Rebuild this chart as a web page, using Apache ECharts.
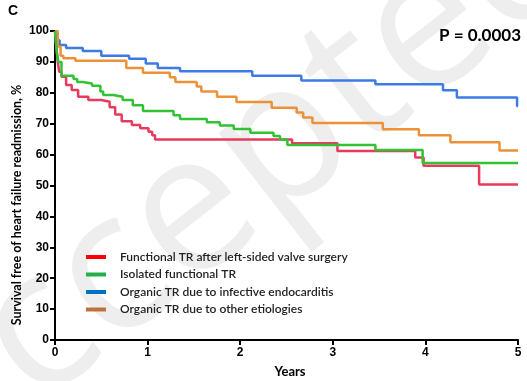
<!DOCTYPE html>
<html>
<head>
<meta charset="utf-8">
<script src="https://cdn.jsdelivr.net/npm/echarts@6/dist/echarts.min.js"></script>
<style>
  html, body { margin: 0; padding: 0; background: #fff; }
  #km { width: 527px; height: 381px; }
</style>
</head>
<body>
<div id="km"></div>
<script>
// step points: [years, % free of readmission]
const funcAfterSurgery = [
  [0, 100], [0.01, 96], [0.03, 90], [0.045, 86.8], [0.07, 85.2], [0.12, 82.5],
  [0.18, 80.9], [0.25, 78.7], [0.36, 77.7], [0.5, 77.1], [0.59, 75.3], [0.65, 73],
  [0.72, 70.8], [0.83, 69.6], [0.92, 68.5], [1.01, 67.4], [1.05, 66.3], [1.08, 64.9],
  [2.56, 63.7], [3.05, 61.2], [3.89, 59.1], [3.98, 56.4], [4.58, 50.3], [5, 50.3]
]
const isolatedFunc = [
  [0, 100], [0.02, 93], [0.035, 90], [0.07, 85.5], [0.2, 84.5], [0.24, 83.5],
  [0.3, 83], [0.4, 82.3], [0.49, 80.4], [0.52, 79.3], [0.63, 78.7], [0.73, 77.7],
  [0.84, 76], [0.95, 74.1], [1.28, 72.7], [1.35, 71.5], [1.64, 70.5], [1.78, 69.4],
  [1.93, 68.3], [2.11, 67.1], [2.36, 66], [2.43, 64.8], [2.51, 63.1], [3.46, 61.5],
  [3.97, 57.3], [5, 57.3]
]
const organicEndocarditis = [
  [0, 100], [0.02, 97], [0.05, 95.5], [0.12, 94.5], [0.3, 93.5], [0.5, 92],
  [0.8, 91], [0.98, 89.5], [1.11, 88], [1.35, 87], [2.13, 85.5], [2.66, 84],
  [3.46, 82.8], [4.19, 80.8], [4.34, 78.5], [4.99, 75.7], [5, 75.7]
]
const organicOther = [
  [0, 100], [0.03, 95], [0.06, 92], [0.09, 91.2], [0.22, 90.4], [0.77, 88],
  [0.95, 86.5], [1.24, 85], [1.3, 83.5], [1.53, 82], [1.58, 80.4], [1.75, 78.7],
  [1.96, 77], [2.34, 75.2], [2.61, 73.6], [2.68, 72], [2.78, 70.2], [3.54, 68.2],
  [3.93, 66.3], [4.27, 64], [4.8, 61.3], [5, 61.3]
]
const seriesNames = [
  'Functional TR after left-sided valve surgery',
  'Isolated functional TR',
  'Organic TR due to infective endocarditis',
  'Organic TR due to other etiologies'
]
const lineColors = ['#e83a5c', '#33c233', '#3c7be3', '#ec9138']
const legendColors = ['#ff0000', '#22b04b', '#0070c0', '#c0703a']
const allData = [funcAfterSurgery, isolatedFunc, organicEndocarditis, organicOther]

let chart = echarts.init(document.getElementById('km'))
const axisFont = { color: '#000', fontWeight: 'bold', fontSize: 12, fontFamily: 'Liberation Sans' }

chart.setOption({
  animation: false,
  grid: { left: 55, right: 9, top: 31, bottom: 41 },
  graphic: [
    {
      // faint "Accepted" watermark behind the plot
      type: 'text', x: -95, y: 440, z: -10, rotation: Math.PI / 180 * 38,
      style: { text: 'Accepted', fontSize: 195, fontFamily: 'Open Sans', fill: 'rgba(0,0,0,0.065)', verticalAlign: 'middle' }
    },
    { type: 'text', left: 8, top: 4, style: { text: 'C', fontSize: 14, fontWeight: 'bold', fontFamily: 'Liberation Sans', fill: '#000' } },
    { type: 'text', right: 6, top: 27, style: { text: 'P = 0.0003', fontSize: 17, fontWeight: 'bold', fontFamily: 'Lato', fill: '#000' } },
    {
      type: 'text', x: 17, y: 205, rotation: Math.PI / 2,
      style: { text: 'Survival free of heart failure readmission, %', fontSize: 12.5, fontWeight: 'bold', fontFamily: 'Lato', fill: '#000', align: 'center', verticalAlign: 'middle' }
    },
    { type: 'text', x: 290, y: 372, style: { text: 'Years', fontSize: 13, fontWeight: 'bold', fontFamily: 'Lato', fill: '#000', align: 'center', verticalAlign: 'middle' } }
  ],
  legend: {
    orient: 'vertical', left: 81, top: 246, itemWidth: 20, itemHeight: 4, itemGap: 5.5,
    icon: 'rect',
    data: seriesNames,
    textStyle: { fontSize: 12, fontFamily: 'Lato', fontWeight: 600, color: '#222', padding: [0, 0, 0, 9] }
  },
  xAxis: {
    type: 'value', min: 0, max: 5, interval: 1,
    axisLine: { lineStyle: { color: '#000', width: 2 } },
    axisTick: { lineStyle: { color: '#000', width: 2 }, length: 5 },
    axisLabel: Object.assign({ margin: 7 }, axisFont),
    splitLine: { show: false }
  },
  yAxis: {
    type: 'value', min: 0, max: 100, interval: 10,
    axisLine: { show: true, lineStyle: { color: '#000', width: 2 } },
    axisTick: { show: true, lineStyle: { color: '#000', width: 2 }, length: 5 },
    axisLabel: Object.assign({ margin: 6 }, axisFont),
    splitLine: { show: false }
  },
  series: allData.map((d, i) => ({
    name: seriesNames[i],
    type: 'line',
    step: 'end',
    showSymbol: false,
    data: d,
    itemStyle: { color: legendColors[i] },
    lineStyle: { color: lineColors[i], width: 2.5 },
    z: 3 + (i === 1 ? 1 : 0)
  }))
})
</script>
</body>
</html>
